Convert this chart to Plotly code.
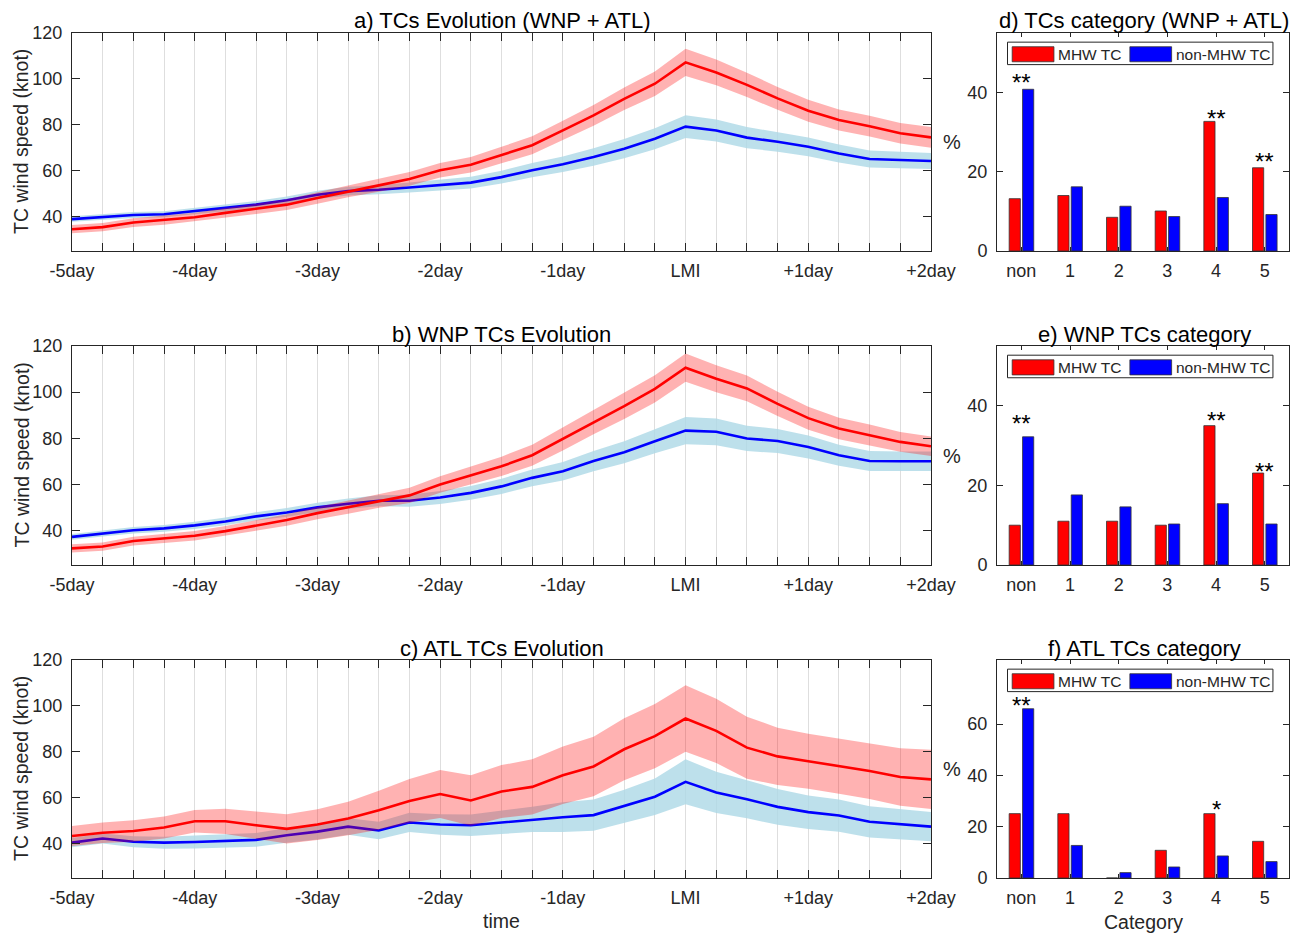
import plotly.graph_objects as go

W, H = 1303, 933
FONT = "Liberation Sans, Arial, sans-serif"
TXT = "#262626"

# ---------------- data ----------------
steps = list(range(29))  # 6-hourly steps from -5 day to +2 day
day_labels = ["-5day", "-4day", "-3day", "-2day", "-1day", "LMI", "+1day", "+2day"]

a_mhw = [34.5, 35.4, 37.4, 38.4, 39.7, 41.6, 43.3, 45.2, 48.1, 51.0, 53.6, 56.4, 60.2, 62.6, 66.8,
         71.1, 77.6, 84.1, 91.3, 97.9, 107.2, 102.8, 97.4, 91.5, 86.1, 82.1, 79.4, 76.3, 74.5]
a_mhw_err = [1.8, 1.8, 1.9, 2.0, 2.0, 2.1, 2.2, 2.3, 2.5, 2.6, 2.8, 3.0, 3.2, 3.4, 3.6,
             3.9, 4.2, 4.5, 4.9, 5.3, 5.9, 5.6, 5.3, 5.0, 4.8, 4.6, 4.5, 4.5, 4.5]
a_non = [38.9, 39.9, 40.7, 41.0, 42.3, 43.7, 45.2, 47.1, 49.5, 51.1, 51.7, 52.7, 53.6, 54.8, 57.2,
         60.2, 62.8, 66.0, 69.6, 73.9, 79.2, 77.5, 74.4, 72.6, 70.4, 67.5, 65.1, 64.6, 64.2]
a_non_err = [1.2, 1.2, 1.3, 1.3, 1.4, 1.5, 1.6, 1.7, 1.8, 1.9, 2.0, 2.2, 2.4, 2.6, 2.8,
             3.1, 3.4, 3.8, 4.2, 4.6, 5.0, 4.8, 4.6, 4.3, 4.1, 3.9, 3.7, 3.6, 3.5]

b_mhw = [32.2, 33.0, 35.4, 36.5, 37.7, 39.7, 42.2, 44.5, 47.5, 50.1, 52.9, 55.2, 59.9, 64.0, 67.8,
         72.6, 79.7, 87.0, 93.9, 101.4, 110.6, 105.8, 101.6, 94.9, 88.7, 84.2, 81.4, 78.4, 76.5]
b_mhw_err = [1.8, 1.8, 1.9, 2.0, 2.1, 2.2, 2.3, 2.5, 2.7, 2.9, 3.1, 3.3, 3.6, 3.9, 4.2,
             4.6, 5.0, 5.3, 5.6, 5.9, 6.1, 5.9, 5.6, 5.3, 5.0, 4.7, 4.5, 4.3, 4.2]
b_non = [37.2, 38.7, 40.1, 40.9, 42.2, 43.9, 46.1, 47.8, 50.0, 51.6, 52.9, 52.9, 54.3, 56.3, 59.1,
         62.8, 65.7, 70.1, 73.9, 78.7, 83.3, 82.8, 79.9, 78.8, 76.2, 72.6, 70.1, 70.0, 70.0]
b_non_err = [1.3, 1.3, 1.4, 1.5, 1.6, 1.7, 1.8, 1.9, 2.0, 2.2, 2.4, 2.6, 2.8, 3.0, 3.3,
             3.6, 4.0, 4.4, 4.8, 5.2, 5.9, 5.8, 5.5, 5.2, 5.0, 4.6, 4.3, 4.2, 4.2]

c_mhw = [43.3, 44.7, 45.5, 47.0, 49.7, 49.7, 48.0, 46.4, 48.3, 50.9, 54.5, 58.6, 61.6, 58.8, 62.7,
         64.7, 69.8, 73.6, 81.1, 86.8, 94.5, 89.1, 81.8, 78.0, 75.9, 73.7, 71.6, 69.0, 68.0]
c_mhw_err = [4.4, 4.5, 4.7, 4.8, 4.9, 5.5, 6.0, 6.4, 6.7, 7.3, 8.5, 9.5, 10.5, 11.0, 11.5,
             12.0, 12.5, 13.0, 13.5, 14.0, 14.5, 14.0, 13.5, 12.5, 12.0, 12.0, 12.2, 12.5, 12.9]
c_non = [40.4, 42.2, 40.8, 40.4, 40.7, 41.0, 41.6, 43.6, 45.2, 47.4, 45.7, 49.2, 48.3, 48.0, 49.2,
         50.5, 51.5, 52.4, 56.3, 60.4, 66.9, 62.3, 59.3, 56.0, 53.7, 52.2, 49.5, 48.3, 47.4]
c_non_err = [2.0, 2.2, 2.4, 2.6, 2.8, 2.9, 3.0, 3.2, 3.4, 3.6, 3.8, 4.2, 4.5, 4.7, 5.0,
             5.5, 6.5, 6.8, 7.2, 8.0, 9.8, 9.0, 8.3, 7.8, 7.3, 7.0, 6.8, 6.6, 6.4]

categories = ["non", "1", "2", "3", "4", "5"]
d_mhw = [13.2, 14.0, 8.5, 10.1, 32.7, 21.0]
d_non = [40.8, 16.2, 11.3, 8.7, 13.5, 9.2]
e_mhw = [10.0, 11.0, 11.0, 10.0, 35.0, 23.1]
e_non = [32.2, 17.6, 14.6, 10.3, 15.4, 10.3]
f_mhw = [25.1, 25.1, 0.0, 10.8, 25.1, 14.3]
f_non = [66.0, 12.7, 2.1, 4.3, 8.6, 6.4]

d_sig = [("non", "**", 43.2), ("4", "**", 34.2), ("5", "**", 23.4)]
e_sig = [("non", "**", 36.2), ("4", "**", 37.1), ("5", "**", 24.2)]
f_sig = [("non", "**", 68.4), ("4", "*", 27.7)]

# ---------------- layout helpers ----------------
def fx(px):
    return px / W

def fy(py):
    return 1 - py / H

LX0, LX1 = 72, 931
BX0, BX1 = 997, 1289
rows = [(33, 251), (346, 565), (660, 878)]

fig = go.Figure()
annotations = []
shapes = []

line_panels = [
    ("a) TCs Evolution (WNP + ATL)", a_mhw, a_mhw_err, a_non, a_non_err),
    ("b) WNP TCs Evolution", b_mhw, b_mhw_err, b_non, b_non_err),
    ("c) ATL TCs Evolution", c_mhw, c_mhw_err, c_non, c_non_err),
]

tick_text = [day_labels[i // 4] if i % 4 == 0 else "" for i in steps]

for k, (title, mhw, mhw_e, non, non_e) in enumerate(line_panels):
    sx = "" if k == 0 else str(k + 1)
    xa, ya = "x" + sx, "y" + sx
    top, bot = rows[k]
    non_up = [v + e for v, e in zip(non, non_e)]
    non_lo = [v - e for v, e in zip(non, non_e)]
    mhw_up = [v + e for v, e in zip(mhw, mhw_e)]
    mhw_lo = [v - e for v, e in zip(mhw, mhw_e)]
    fig.add_trace(go.Scatter(x=steps + steps[::-1], y=non_up + non_lo[::-1], fill="toself",
                             fillcolor="rgba(173,216,230,0.8)", line=dict(width=0),
                             xaxis=xa, yaxis=ya, showlegend=False, hoverinfo="skip"))
    fig.add_trace(go.Scatter(x=steps, y=non, mode="lines", line=dict(color="#0000ff", width=2.6),
                             xaxis=xa, yaxis=ya, showlegend=False))
    fig.add_trace(go.Scatter(x=steps + steps[::-1], y=mhw_up + mhw_lo[::-1], fill="toself",
                             fillcolor="rgba(255,0,0,0.3)", line=dict(width=0),
                             xaxis=xa, yaxis=ya, showlegend=False, hoverinfo="skip"))
    fig.add_trace(go.Scatter(x=steps, y=mhw, mode="lines", line=dict(color="#ff0000", width=2.6),
                             xaxis=xa, yaxis=ya, showlegend=False))

    fig.layout["xaxis" + sx] = dict(
        domain=[fx(LX0), fx(LX1)], anchor=ya, range=[0, 28], automargin=False,
        tickvals=steps, ticktext=tick_text, ticks="inside", ticklen=8, tickcolor=TXT,
        showgrid=True, gridcolor="#dedede", gridwidth=1, zeroline=False,
        showline=True, linecolor=TXT, linewidth=1, mirror="ticks",
        tickfont=dict(family=FONT, size=18, color=TXT), ticklabelstandoff=3)
    fig.layout["yaxis" + sx] = dict(
        domain=[fy(bot), fy(top)], anchor=xa, range=[25, 120], automargin=False,
        tickvals=[40, 60, 80, 100, 120], ticks="inside", ticklen=8, tickcolor=TXT,
        showgrid=False, zeroline=False, showline=True, linecolor=TXT, linewidth=1,
        mirror="ticks", tickfont=dict(family=FONT, size=18, color=TXT), ticklabelstandoff=5)

    annotations.append(dict(text=title, x=fx((LX0 + LX1) / 2), y=fy(top - 12), xref="paper",
                            yref="paper", showarrow=False, xanchor="center", yanchor="middle",
                            font=dict(family=FONT, size=22, color="#000")))
    annotations.append(dict(text="TC wind speed (knot)", x=fx(21), y=fy((top + bot) / 2),
                            xref="paper", yref="paper", showarrow=False, textangle=-90,
                            xanchor="center", yanchor="middle",
                            font=dict(family=FONT, size=19.5, color=TXT)))
    annotations.append(dict(text="%", x=fx(952), y=fy((top + bot) / 2), xref="paper",
                            yref="paper", showarrow=False, xanchor="center", yanchor="middle",
                            font=dict(family=FONT, size=20, color=TXT)))

bar_panels = [
    ("d) TCs category (WNP + ATL)", d_mhw, d_non, d_sig, 55, [0, 20, 40]),
    ("e) WNP TCs category", e_mhw, e_non, e_sig, 55, [0, 20, 40]),
    ("f) ATL TCs category", f_mhw, f_non, f_sig, 85, [0, 20, 40, 60]),
]
cat_pos = [i + 1 for i in range(len(categories))]
pos_of = dict(zip(categories, cat_pos))

for k, (title, mhw, non, sig, ymax, yt) in enumerate(bar_panels):
    sx = str(k + 4)
    xa, ya = "x" + sx, "y" + sx
    top, bot = rows[k]
    fig.add_trace(go.Bar(x=cat_pos, y=mhw, width=0.23, offset=-0.25, marker=dict(
        color="#ff0000", line=dict(color="#333333", width=0.8)), xaxis=xa, yaxis=ya,
        showlegend=False))
    fig.add_trace(go.Bar(x=cat_pos, y=non, width=0.23, offset=0.025, marker=dict(
        color="#0000ff", line=dict(color="#333333", width=0.8)), xaxis=xa, yaxis=ya,
        showlegend=False))
    fig.layout["xaxis" + sx] = dict(
        domain=[fx(BX0), fx(BX1)], anchor=ya, range=[0.5, 6.5], automargin=False,
        tickvals=cat_pos, ticktext=categories, ticks="inside", ticklen=4, tickcolor=TXT,
        showgrid=False, zeroline=False, showline=True, linecolor=TXT, linewidth=1,
        mirror="ticks",
        tickfont=dict(family=FONT, size=18, color=TXT), ticklabelstandoff=3)
    fig.layout["yaxis" + sx] = dict(
        domain=[fy(bot), fy(top)], anchor=xa, range=[0, ymax], automargin=False,
        tickvals=yt, ticks="inside", ticklen=6, tickcolor=TXT,
        showgrid=False, zeroline=False, showline=True, linecolor=TXT, linewidth=1,
        mirror="ticks", tickfont=dict(family=FONT, size=18, color=TXT), ticklabelstandoff=5)

    for cat, txt, yv in sig:
        annotations.append(dict(text=txt, x=pos_of[cat], y=yv, xref=xa, yref=ya,
                                showarrow=False, xanchor="center", yanchor="middle", yshift=-3,
                                font=dict(family=FONT, size=24, color="#000")))
    annotations.append(dict(text=title, x=fx(1144), y=fy(top - 12), xref="paper", yref="paper",
                            showarrow=False, xanchor="center", yanchor="middle",
                            font=dict(family=FONT, size=22, color="#000")))
    # legend box
    xd, yd = xa + " domain", ya + " domain"
    shapes.append(dict(type="rect", xref=xd, yref=yd, x0=0.036, x1=0.945, y0=0.855, y1=0.958,
                       line=dict(color=TXT, width=1), fillcolor="white"))
    shapes.append(dict(type="rect", xref=xd, yref=yd, x0=0.052, x1=0.195, y0=0.868, y1=0.937,
                       line=dict(color="#333333", width=0.8), fillcolor="#ff0000"))
    shapes.append(dict(type="rect", xref=xd, yref=yd, x0=0.455, x1=0.598, y0=0.868, y1=0.937,
                       line=dict(color="#333333", width=0.8), fillcolor="#0000ff"))
    annotations.append(dict(text="MHW TC", x=0.202, y=0.903, xref=xd, yref=yd, showarrow=False,
                            xanchor="left", yanchor="middle",
                            font=dict(family=FONT, size=15.5, color=TXT)))
    annotations.append(dict(text="non-MHW TC", x=0.607, y=0.903, xref=xd, yref=yd,
                            showarrow=False, xanchor="left", yanchor="middle",
                            font=dict(family=FONT, size=15.5, color=TXT)))

annotations.append(dict(text="time", x=fx(501), y=fy(921), xref="paper", yref="paper",
                        showarrow=False, xanchor="center", yanchor="middle",
                        font=dict(family=FONT, size=19.5, color=TXT)))
annotations.append(dict(text="Category", x=fx(1143), y=fy(922), xref="paper", yref="paper",
                        showarrow=False, xanchor="center", yanchor="middle",
                        font=dict(family=FONT, size=19.5, color=TXT)))

fig.update_layout(width=W, height=H, margin=dict(l=0, r=0, t=0, b=0),
                  paper_bgcolor="white", plot_bgcolor="white", barmode="overlay",
                  annotations=annotations, shapes=shapes, showlegend=False,
                  font=dict(family=FONT, color=TXT))
fig.write_html("out.html")
